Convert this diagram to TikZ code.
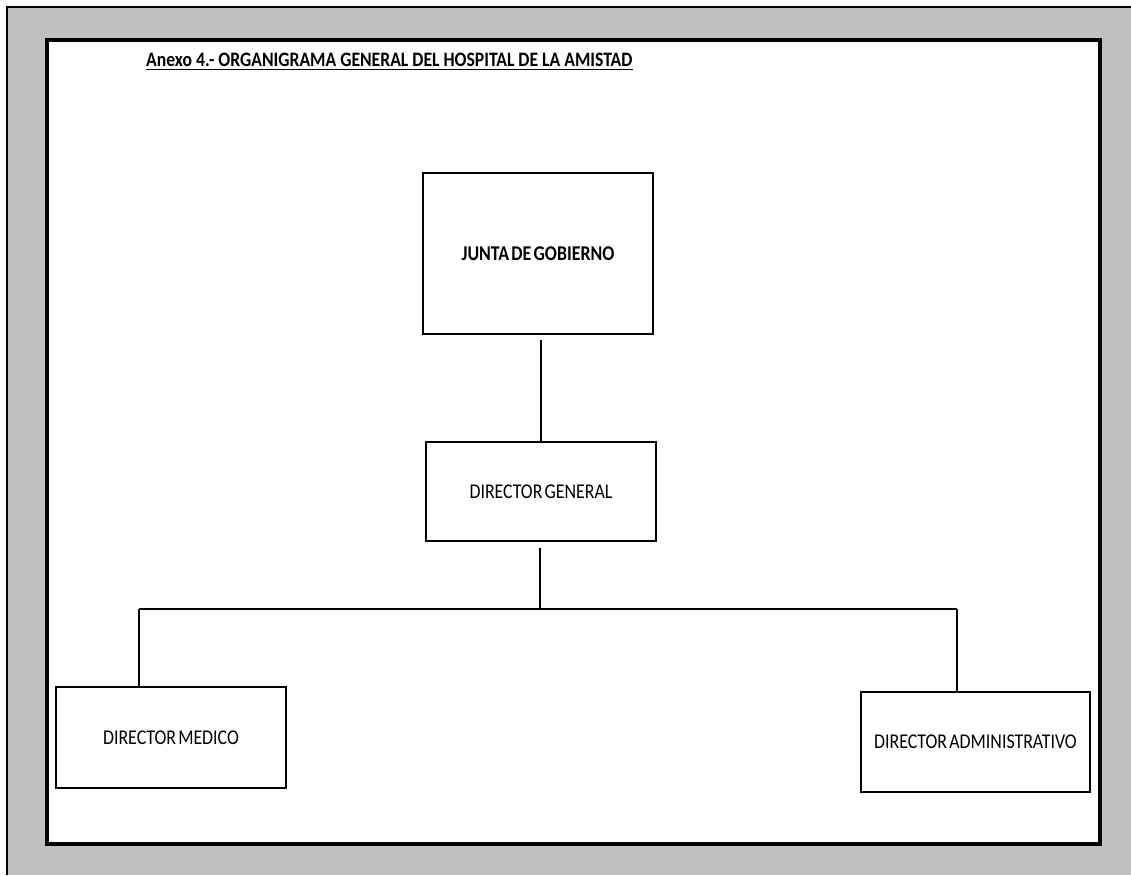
\documentclass[tikz,border=0pt]{standalone}
\usepackage{fontspec}
\setmainfont{Carlito}
\newfontfamily\titlefont[FakeStretch=0.86]{Carlito}
\newfontfamily\boxfont[FakeStretch=0.85,WordSpace=0.55]{Carlito}
\definecolor{pagegray}{HTML}{C0C0C0}
\begin{document}
\begin{tikzpicture}[x=1pt,y=-1pt,
  orgbox/.style={draw=black,line width=2pt,fill=white,inner sep=0pt,align=center,font=\boxfont\fontsize{21}{24}\selectfont},
  link/.style={draw=black,line width=2pt}]
\useasboundingbox (0,0) rectangle (1131,875);
% page background
\fill[white] (0,0) rectangle (1131,875);
\fill[pagegray] (7,7) rectangle (1131,875);
\draw[line width=1.5pt] (7,875) -- (7,7) -- (1131,7);
% inner frame
\draw[line width=4pt,fill=white] (47,40) rectangle (1100,844);
% title
\node[anchor=base west,inner sep=0pt,font=\titlefont\bfseries\fontsize{20.5}{23}\selectfont] (title) at (146,66.5) {Anexo 4.- ORGANIGRAMA GENERAL DEL HOSPITAL DE LA AMISTAD};
\draw[line width=1.5pt] ([yshift=-3.2pt]title.base west) -- ([yshift=-3.2pt]title.base east);
% boxes
\node[orgbox,minimum width=230pt,minimum height=161pt] (JG) at (538,253.5) {\bfseries JUNTA DE GOBIERNO};
\node[orgbox,minimum width=230pt,minimum height=99pt] (DG) at (541,491.5) {DIRECTOR GENERAL};
\node[orgbox,minimum width=230pt,minimum height=101pt] (DM) at (171,737.5) {DIRECTOR MEDICO};
\node[orgbox,minimum width=229pt,minimum height=100pt] (DA) at (975.5,742) {DIRECTOR ADMINISTRATIVO};
% bus
\coordinate (busL) at (139,609);
\coordinate (busR) at (957,609);
\coordinate (busM) at (540,609);
% connectors
\draw[link,shorten >=5pt] (DG.north) -- (DG.north |- JG.south);
\draw[link] (busM) -- ([yshift=-6pt]busM |- DG.south);
\draw[link] (busL) -- (busR);
\draw[link] (busL) -- (busL |- DM.north);
\draw[link] (busR) -- (busR |- DA.north);
\end{tikzpicture}
\end{document}
